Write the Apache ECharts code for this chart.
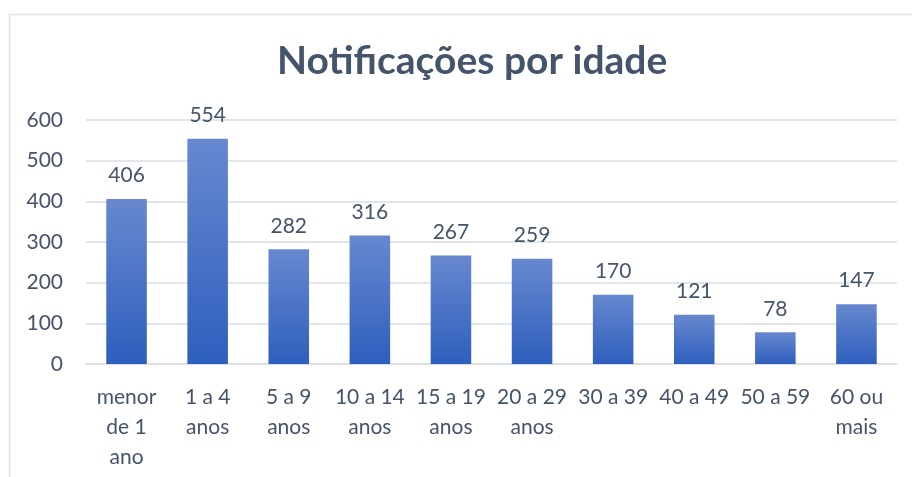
<!DOCTYPE html>
<html>
<head>
<meta charset="utf-8">
<script src="https://cdn.jsdelivr.net/npm/echarts@6/dist/echarts.min.js"></script>
<style>
  html, body { margin: 0; padding: 0; background: #fff; }
  #chart { width: 912px; height: 477px; }
</style>
</head>
<body>
<div id="chart"></div>
<script>
// faixas etárias e notificações
let categories = ['menor\nde 1\nano', '1 a 4\nanos', '5 a 9\nanos', '10 a 14\nanos', '15 a 19\nanos',
    '20 a 29\nanos', '30 a 39', '40 a 49', '50 a 59', '60 ou\nmais'];
let notificacoes = [406, 554, 282, 316, 267, 259, 170, 121, 78, 147];
let yTicks = [0, 100, 200, 300, 400, 500, 600];

let textColor = '#44546A';
let font = 'Lato, "Open Sans", sans-serif';

let chart = echarts.init(document.getElementById('chart'));
let option = {
    animation: false,
    title: {
        text: 'Notificações por idade',
        left: 272,
        top: 37,
        textStyle: { fontFamily: font, fontSize: 39, fontWeight: 'bold', color: textColor }
    },
    graphic: [{
        type: 'rect',
        shape: { x: 9.5, y: 14.5, width: 950, height: 500 },
        style: { fill: 'none', stroke: '#DDE3EA', lineWidth: 1.5 },
        silent: true
    }],
    grid: { left: 86, right: 15, top: 120, bottom: 113 },
    xAxis: {
        type: 'category',
        data: categories,
        axisLine: { lineStyle: { color: '#D9DEE6', width: 1.5 } },
        axisTick: { show: false },
        axisLabel: {
            interval: 0,
            margin: 18,
            fontFamily: font,
            fontSize: 21,
            lineHeight: 30,
            color: textColor
        }
    },
    yAxis: {
        type: 'value',
        min: yTicks[0],
        max: yTicks[yTicks.length - 1],
        interval: 100,
        axisLine: { show: false },
        axisTick: { show: false },
        splitLine: { lineStyle: { color: '#D9DEE6', width: 1.5 } },
        axisLabel: { margin: 23, fontFamily: font, fontSize: 21, color: textColor }
    },
    series: [{
        type: 'bar',
        data: notificacoes,
        barWidth: '50%',
        itemStyle: {
            color: new echarts.graphic.LinearGradient(0, 0, 0, 1, [
                { offset: 0, color: '#6788CF' },
                { offset: 1, color: '#2E5FBD' }
            ])
        },
        label: {
            show: true,
            position: 'top',
            distance: 13,
            fontFamily: font,
            fontSize: 21,
            color: textColor
        }
    }]
};
chart.setOption(option);
</script>
</body>
</html>
